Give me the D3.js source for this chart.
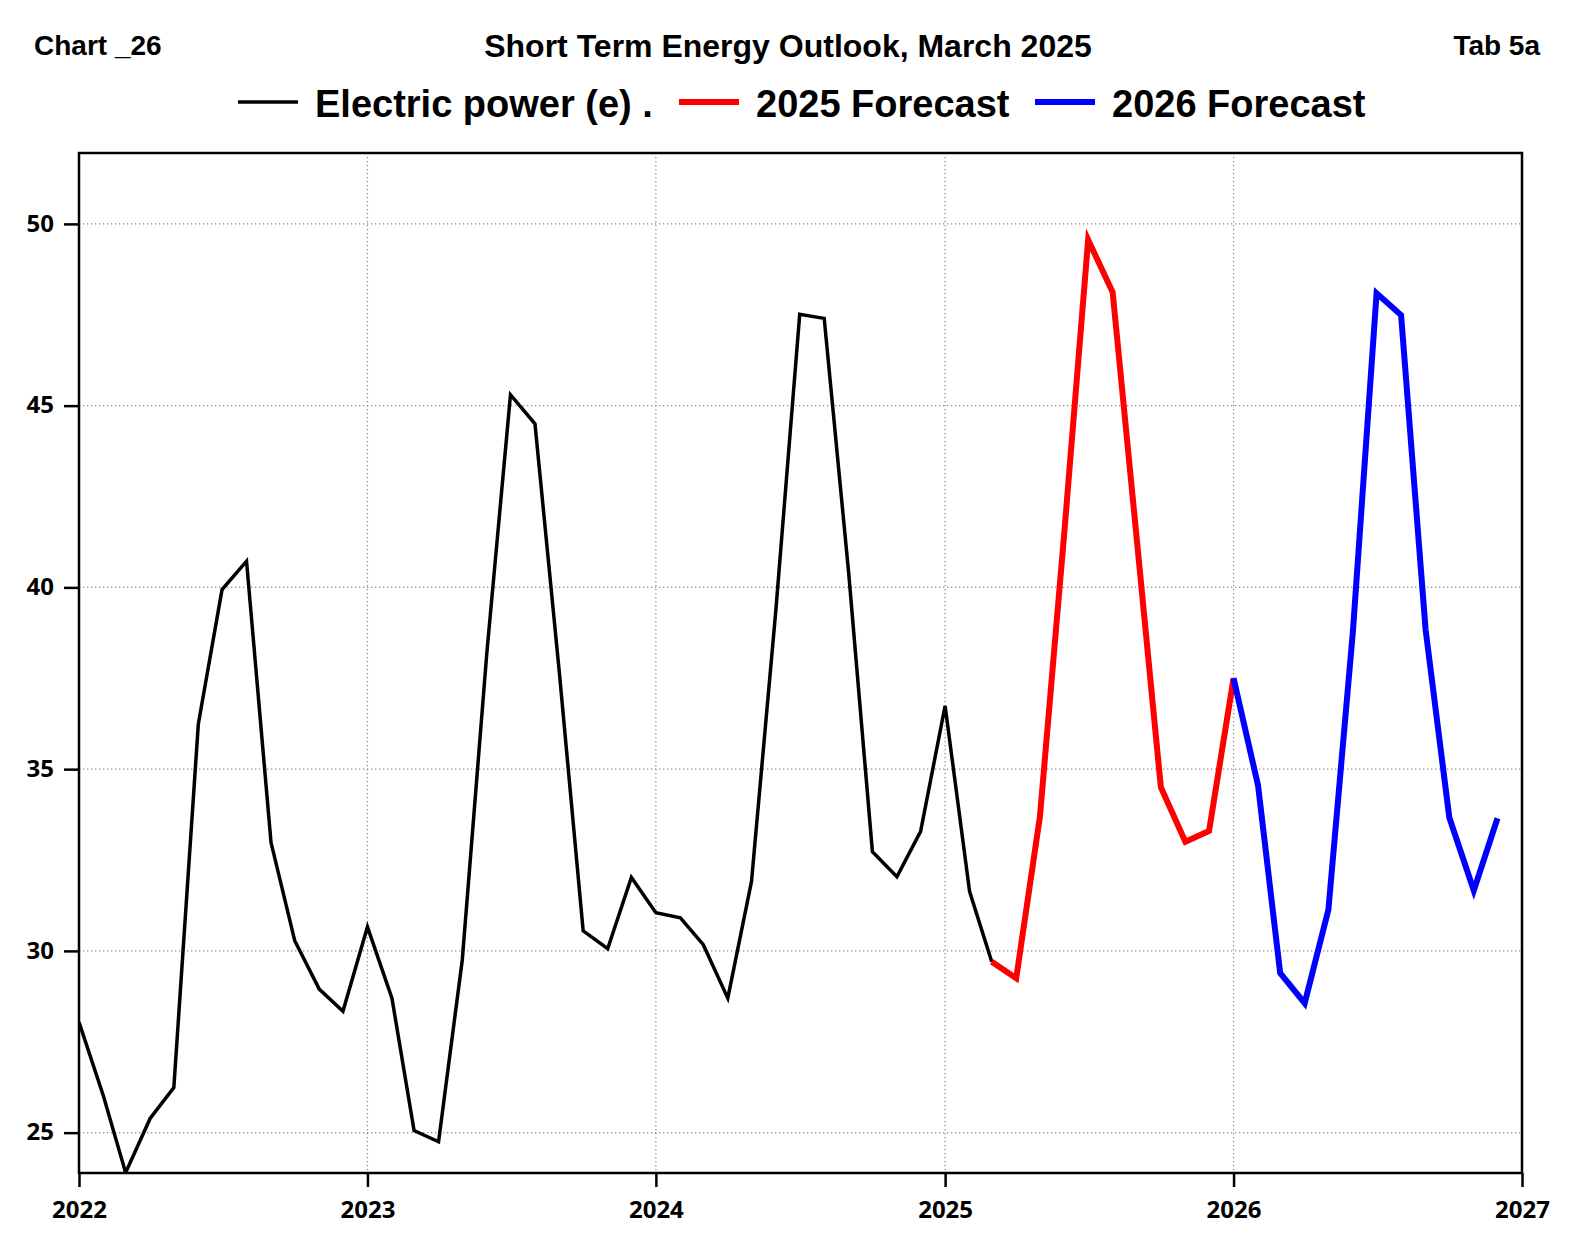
<!DOCTYPE html>
<html>
<head>
<meta charset="utf-8">
<script src="https://cdn.jsdelivr.net/npm/d3@7"></script>
<style>
  body { margin: 0; background: #fff; }
  text { fill: #000; }
</style>
</head>
<body>
<svg id="chart" width="1575" height="1260"></svg>
<script>
// monthly values, starting Jan 2022
const histStart = [2022, 0];
const histValues = [28.04, 26.0, 23.9, 25.39, 26.24, 36.24, 39.94, 40.72, 32.98, 30.28, 28.95, 28.34,
  30.66, 28.70, 25.06, 24.75, 29.75, 38.18, 45.30, 44.50, 37.62, 30.55, 30.06, 32.02,
  31.05, 30.91, 30.17, 28.70, 31.91, 39.42, 47.51, 47.40, 40.39, 32.73, 32.04, 33.29,
  36.74, 31.63, 29.70];
// Mar 2025 .. Jan 2026
const f25Start = [2025, 2];
const f25Values = [29.70, 29.25, 33.70, 41.55, 49.56, 48.12, 41.22, 34.50, 33.0, 33.3, 37.5];
// Jan 2026 .. Dec 2026
const f26Start = [2026, 0];
const f26Values = [37.5, 34.55, 29.39, 28.56, 31.13, 38.78, 48.09, 47.49, 38.84, 33.67, 31.66, 33.65];

const yTicks = [25, 30, 35, 40, 45, 50];
const xTicks = [2022, 2023, 2024, 2025, 2026, 2027];

const legendItems = [
  { label: "Electric power (e) .", color: "#000", w: 3.5, x: 238 },
  { label: "2025 Forecast", color: "#ff0000", w: 6, x: 679 },
  { label: "2026 Forecast", color: "#0000ff", w: 6, x: 1035 }
];

const svg = d3.select("#chart");
const margin = { top: 153, right: 53, bottom: 87, left: 79 };
const width = 1575 - margin.left - margin.right;
const height = 1260 - margin.top - margin.bottom;

const x = d3.scaleTime()
  .domain([new Date(2022, 0, 1), new Date(2027, 0, 1)])
  .range([0, width]);
const y = d3.scaleLinear().domain([23.89, 51.95]).range([height, 0]);

const toSeries = (start, vals) => vals.map((v, i) => ({ date: new Date(start[0], start[1] + i, 1), v }));

const font = "Liberation Sans, Arial, sans-serif";

// header
svg.append("text").attr("x", 34).attr("y", 55)
  .attr("font-family", font).attr("font-weight", "bold").attr("font-size", 28)
  .text("Chart _26");
svg.append("text").attr("x", 788).attr("y", 57).attr("text-anchor", "middle")
  .attr("font-family", font).attr("font-weight", "bold").attr("font-size", 32)
  .text("Short Term Energy Outlook, March 2025");
svg.append("text").attr("x", 1540).attr("y", 55).attr("text-anchor", "end")
  .attr("font-family", font).attr("font-weight", "bold").attr("font-size", 28)
  .text("Tab 5a");

// legend
const leg = svg.append("g");
legendItems.forEach(d => {
  leg.append("line").attr("x1", d.x).attr("x2", d.x + 60).attr("y1", 102).attr("y2", 102)
    .attr("stroke", d.color).attr("stroke-width", d.w);
  leg.append("text").attr("x", d.x + 77).attr("y", 117)
    .attr("font-family", font).attr("font-weight", "bold").attr("font-size", 38)
    .text(d.label);
});

const g = svg.append("g").attr("transform", `translate(${margin.left},${margin.top})`);

// grid
g.selectAll(".hgrid").data(yTicks).enter().append("line")
  .attr("x1", 0).attr("x2", width)
  .attr("y1", d => y(d)).attr("y2", d => y(d))
  .attr("stroke", "#8a8a8a").attr("stroke-width", 1.3).attr("stroke-dasharray", "1.3,2.7");
g.selectAll(".vgrid").data(xTicks.slice(1, -1)).enter().append("line")
  .attr("y1", 0).attr("y2", height)
  .attr("x1", d => x(new Date(d, 0, 1))).attr("x2", d => x(new Date(d, 0, 1)))
  .attr("stroke", "#8a8a8a").attr("stroke-width", 1.3).attr("stroke-dasharray", "1.3,2.7");

// axes
const yAxis = g.append("g")
  .call(d3.axisLeft(y).tickValues(yTicks).tickSize(15).tickPadding(10).tickFormat(d3.format("d")));
yAxis.select(".domain").remove();
yAxis.selectAll("line").attr("stroke", "#000").attr("stroke-width", 2.5);
yAxis.selectAll("text").attr("font-family", "Open Sans, DejaVu Sans").attr("font-weight", "bold")
  .attr("font-size", 24).attr("dy", "0.3em");

const xAxis = g.append("g").attr("transform", `translate(0,${height})`)
  .call(d3.axisBottom(x).tickValues(xTicks.map(t => new Date(t, 0, 1))).tickSize(14).tickPadding(14)
    .tickFormat(d3.timeFormat("%Y")));
xAxis.select(".domain").remove();
xAxis.selectAll("line").attr("stroke", "#000").attr("stroke-width", 2.5);
xAxis.selectAll("text").attr("font-family", "Open Sans, DejaVu Sans").attr("font-weight", "bold")
  .attr("font-size", 24);

// frame
g.append("rect").attr("width", width).attr("height", height)
  .attr("fill", "none").attr("stroke", "#000").attr("stroke-width", 2.5);

// lines
const line = d3.line().x(d => x(d.date)).y(d => y(d.v));
g.append("clipPath").attr("id", "plot").append("rect")
  .attr("width", width).attr("height", height);

[
  { data: toSeries(histStart, histValues), color: "#000", w: 3.5 },
  { data: toSeries(f25Start, f25Values), color: "#ff0000", w: 6 },
  { data: toSeries(f26Start, f26Values), color: "#0000ff", w: 6 }
].forEach(s => {
  g.append("path").datum(s.data).attr("d", line)
    .attr("clip-path", "url(#plot)")
    .attr("fill", "none").attr("stroke", s.color).attr("stroke-width", s.w)
    .attr("stroke-linejoin", "miter");
});
</script>
</body>
</html>
